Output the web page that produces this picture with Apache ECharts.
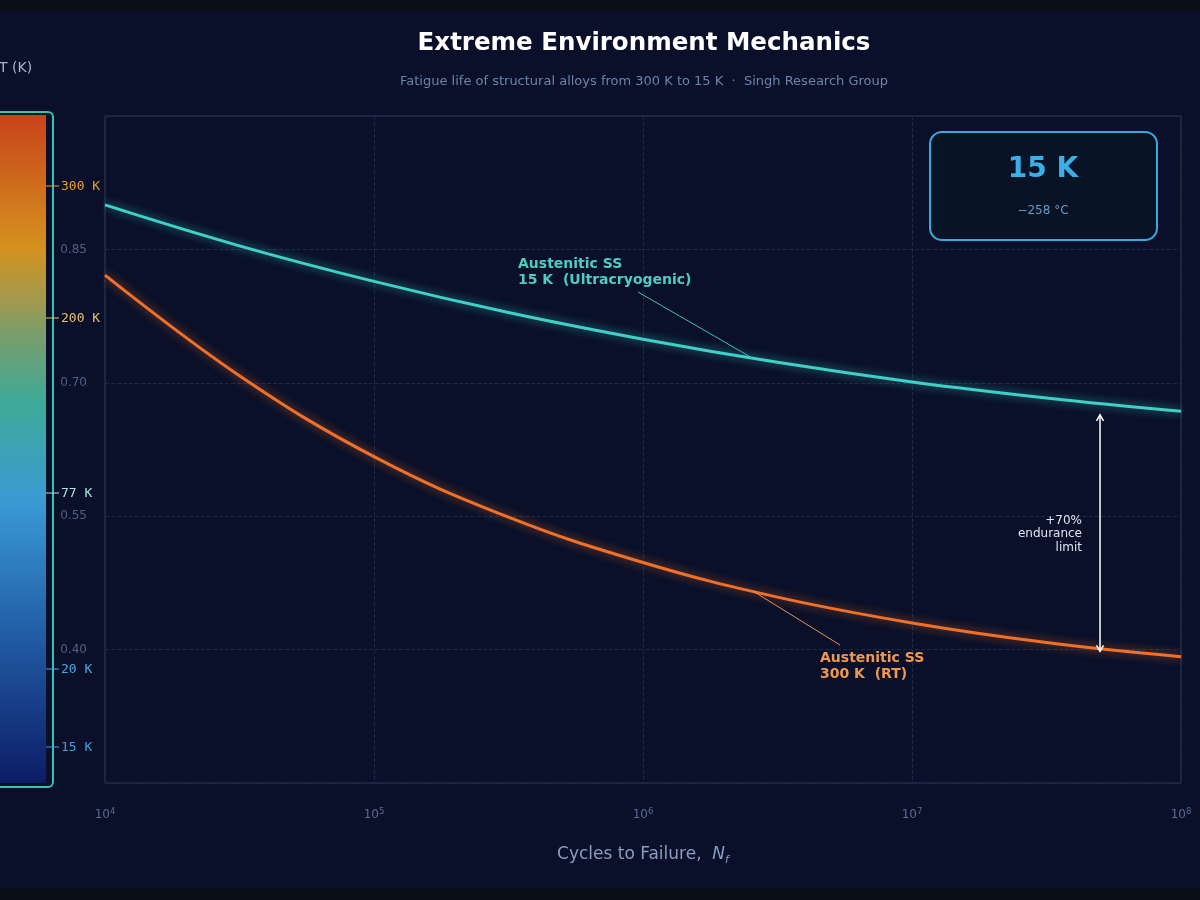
<!DOCTYPE html>
<html>
<head>
<meta charset="utf-8">
<script src="https://cdn.jsdelivr.net/npm/echarts@6/dist/echarts.min.js"></script>
<style>
  html, body { margin: 0; padding: 0; background: #0b0f18; }
  #chart { width: 1200px; height: 900px; }
</style>
</head>
<body>
<div id="chart"></div>
<script>
// cycles to failure (half-decade steps)
const cycles = [1e4, 3.16e4, 1e5, 3.16e5, 1e6, 3.16e6, 1e7, 3.16e7, 1e8];
// normalised stress amplitude
const ss15K = [0.900, 0.854, 0.814, 0.779, 0.749, 0.723, 0.701, 0.683, 0.668];
const ss300K = [0.821, 0.708, 0.617, 0.549, 0.498, 0.459, 0.430, 0.408, 0.392];

// colour bar ticks
const tempLabels = ["300 K", "200 K", "77 K", "20 K", "15 K"];

// annotation anchors (data space)
const annoCycle = 2.55e6;
const gapCycle = 5e7;
const gapTop = 0.664;
const gapBottom = 0.398;

const FONT = "DejaVu Sans";
const MONO = "DejaVu Sans Mono";
const TEAL = "#3fd0c8";
const ORANGE = "#f07028";

const chart = echarts.init(document.getElementById("chart"));

// colour bar layout
const barTop = 115, barBottom = 783;
const tickY = [186, 318, 493, 669, 747];
const tickColors = ["#e8a030", "#e8c070", "#a8e4dc", "#4aa8e0", "#3aa0e0"];

const colorBar = [
  {
    type: "rect",
    shape: { x: 0, y: barTop, width: 46, height: barBottom - barTop },
    style: {
      fill: new echarts.graphic.LinearGradient(0, 0, 0, 1, [
        { offset: 0, color: "#c8431a" },
        { offset: 0.2, color: "#d4921f" },
        { offset: 0.28, color: "#a09a50" },
        { offset: 0.33, color: "#789e6c" },
        { offset: 0.43, color: "#3eaa98" },
        { offset: 0.58, color: "#3a9ad4" },
        { offset: 0.76, color: "#2362aa" },
        { offset: 1, color: "#0c1c66" },
      ]),
    },
  },
  {
    type: "rect",
    shape: { x: -20, y: 112, width: 73, height: 675, r: 5 },
    style: { fill: null, stroke: "#3ec0b0", lineWidth: 2 },
  },
  {
    type: "text",
    x: -1, y: 68,
    style: { text: "T (K)", fill: "#a8b4cc", font: `14px ${FONT}`, verticalAlign: "middle" },
  },
];
tempLabels.forEach((t, i) => {
  colorBar.push({
    type: "line",
    shape: { x1: 46, y1: tickY[i], x2: 59, y2: tickY[i] },
    style: { stroke: tickColors[i], lineWidth: 1 },
  });
  colorBar.push({
    type: "text",
    x: 61, y: tickY[i] + 1,
    style: { text: t, fill: tickColors[i], font: `13px ${MONO}`, verticalAlign: "middle" },
  });
});

const baseGraphic = [
  { type: "rect", shape: { x: 0, y: 0, width: 1200, height: 11 }, style: { fill: "#0b0f18" } },
  { type: "rect", shape: { x: 0, y: 888, width: 1200, height: 12 }, style: { fill: "#0b0f18" } },
  ...colorBar,
  {
    type: "rect",
    shape: { x: 930, y: 132, width: 227, height: 108, r: 12 },
    style: { fill: "#081326", stroke: "#3aa8e0", lineWidth: 2 },
  },
  {
    type: "text", x: 1043, y: 170,
    style: { text: "15 K", fill: "#3aaee6", font: `bold 28px ${FONT}`, align: "center", verticalAlign: "middle" },
  },
  {
    type: "text", x: 1043, y: 211,
    style: { text: "−258 °C", fill: "#6a9ac8", font: `12px ${FONT}`, align: "center", verticalAlign: "middle" },
  },
  {
    type: "text", x: 518, y: 272,
    style: { text: "Austenitic SS\n15 K  (Ultracryogenic)", fill: "#4ecdc4", font: `bold 14px ${FONT}`, lineHeight: 16, verticalAlign: "middle" },
  },
  {
    type: "text", x: 820, y: 666,
    style: { text: "Austenitic SS\n300 K  (RT)", fill: "#f09850", font: `bold 14px ${FONT}`, lineHeight: 16, verticalAlign: "middle" },
  },
  {
    type: "text", x: 1082, y: 534,
    style: { text: "+70%\nendurance\nlimit", fill: "#e0e6f0", font: `12px ${FONT}`, lineHeight: 13.5, align: "right", verticalAlign: "middle" },
  },
];

chart.setOption({
  backgroundColor: "#0a1029",
  animation: false,
  title: [
    {
      text: "Extreme Environment Mechanics",
      left: 639, top: 26, textAlign: "center",
      textStyle: { color: "#ffffff", fontFamily: FONT, fontSize: 24.5, fontWeight: "bold" },
    },
    {
      text: "Fatigue life of structural alloys from 300 K to 15 K  ·  Singh Research Group",
      left: 639, top: 70, textAlign: "center",
      textStyle: { color: "#6a85a8", fontFamily: FONT, fontSize: 13, fontWeight: "normal" },
    },
  ],
  grid: {
    left: 105, right: 19, top: 116, bottom: 117,
    show: true, borderColor: "#2a3858", borderWidth: 1, backgroundColor: "transparent",
  },
  xAxis: {
    type: "log",
    logBase: 10,
    min: 1e4,
    max: 1e8,
    name: "{a|Cycles to Failure,  }{i|N}{s|f}",
    nameLocation: "middle",
    nameGap: 61,
    nameTextStyle: {
      rich: {
        a: { color: "#8a9cc0", fontFamily: FONT, fontSize: 17, lineHeight: 22 },
        i: { color: "#8a9cc0", fontFamily: FONT, fontSize: 17, fontStyle: "italic", lineHeight: 22 },
        s: { color: "#8a9cc0", fontFamily: FONT, fontSize: 11, fontStyle: "italic", lineHeight: 22, verticalAlign: "bottom" },
      },
    },
    axisLine: { show: false },
    axisTick: { show: false },
    axisLabel: {
      margin: 24,
      formatter: (v) => "{b|10}{e|" + Math.round(Math.log10(v)) + "}",
      rich: {
        b: { color: "#5a6a90", fontFamily: FONT, fontSize: 12, lineHeight: 16 },
        e: { color: "#5a6a90", fontFamily: FONT, fontSize: 8.5, lineHeight: 16, verticalAlign: "top" },
      },
    },
    splitLine: { show: true, lineStyle: { color: "#1c2848", type: "dashed" } },
  },
  yAxis: {
    type: "value",
    min: 0.25,
    max: 1.0,
    interval: 0.15,
    axisLine: { show: false },
    axisTick: { show: false },
    axisLabel: {
      color: "#4f6084",
      fontFamily: FONT,
      fontSize: 12,
      margin: 18,
      formatter: (v) => (v < 0.3 || v > 0.95 ? "" : v.toFixed(2)),
    },
    splitLine: { show: true, lineStyle: { color: "#1c2848", type: "dashed" } },
  },
  series: [
    {
      name: "Austenitic SS 15 K",
      type: "line",
      smooth: 0.4,
      showSymbol: false,
      data: cycles.map((c, i) => [c, ss15K[i]]),
      lineStyle: { color: TEAL, width: 3, shadowBlur: 10, shadowColor: "rgba(63,208,200,0.7)" },
      z: 3,
    },
    {
      name: "Austenitic SS 300 K",
      type: "line",
      smooth: 0.4,
      showSymbol: false,
      data: cycles.map((c, i) => [c, ss300K[i]]),
      lineStyle: { color: ORANGE, width: 3, shadowBlur: 10, shadowColor: "rgba(240,112,40,0.7)" },
      z: 3,
    },
  ],
  graphic: baseGraphic,
});

// leader lines and gap arrow, placed with the chart's own scales
const px = (x, y) => chart.convertToPixel({ gridIndex: 0 }, [x, y]);
const interp = (arr, c) => {
  const lc = Math.log10(c);
  for (let i = 0; i < cycles.length - 1; i++) {
    const a = Math.log10(cycles[i]), b = Math.log10(cycles[i + 1]);
    if (lc >= a && lc <= b) return arr[i] + (arr[i + 1] - arr[i]) * (lc - a) / (b - a);
  }
  return arr[arr.length - 1];
};
const tealPt = px(annoCycle, interp(ss15K, annoCycle));
const orangePt = px(annoCycle, interp(ss300K, annoCycle));
const aTop = px(gapCycle, gapTop);
const aBot = px(gapCycle, gapBottom);
const h = 6;

chart.setOption({
  graphic: baseGraphic.concat([
    {
      type: "line", z: 10,
      shape: { x1: 638, y1: 292, x2: tealPt[0], y2: tealPt[1] },
      style: { stroke: "#3ec0b8", lineWidth: 1 },
    },
    {
      type: "line", z: 10,
      shape: { x1: 840, y1: 645, x2: orangePt[0], y2: orangePt[1] },
      style: { stroke: "#e89050", lineWidth: 1 },
    },
    {
      type: "line", z: 10,
      shape: { x1: aTop[0], y1: aTop[1], x2: aBot[0], y2: aBot[1] },
      style: { stroke: "#ffffff", lineWidth: 1.5 },
    },
    {
      type: "polyline", z: 10,
      shape: { points: [[aTop[0] - 3.5, aTop[1] + h], [aTop[0], aTop[1]], [aTop[0] + 3.5, aTop[1] + h]] },
      style: { stroke: "#ffffff", lineWidth: 1.5, fill: null },
    },
    {
      type: "polyline", z: 10,
      shape: { points: [[aBot[0] - 3.5, aBot[1] - h], [aBot[0], aBot[1]], [aBot[0] + 3.5, aBot[1] - h]] },
      style: { stroke: "#ffffff", lineWidth: 1.5, fill: null },
    },
  ]),
}, { replaceMerge: ["graphic"] });
</script>
</body>
</html>
